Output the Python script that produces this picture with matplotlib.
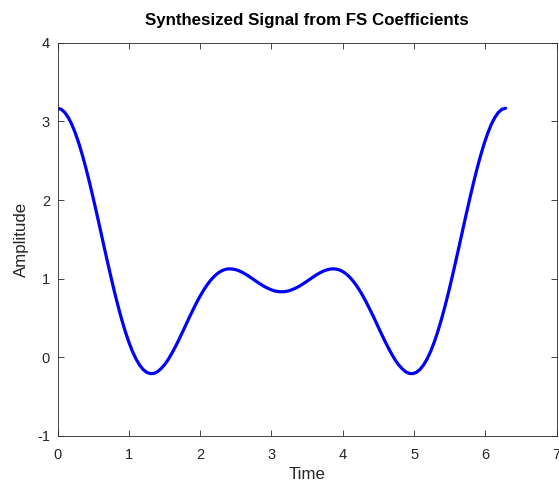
import matplotlib
matplotlib.use("Agg")
import matplotlib.pyplot as plt

# Values
time = [0.0, 0.05, 0.1, 0.15, 0.2, 0.25, 0.3, 0.35, 0.4, 0.45,
        0.5, 0.55, 0.6, 0.65, 0.7, 0.75, 0.8, 0.85, 0.9, 0.95,
        1.0, 1.05, 1.1, 1.15, 1.2, 1.25, 1.3, 1.35, 1.4, 1.45,
        1.5, 1.55, 1.6, 1.65, 1.7, 1.75, 1.8, 1.85, 1.9, 1.95,
        2.0, 2.05, 2.1, 2.15, 2.2, 2.25, 2.3, 2.35, 2.4, 2.45,
        2.5, 2.55, 2.6, 2.65, 2.7, 2.75, 2.8, 2.85, 2.9, 2.95,
        3.0, 3.05, 3.1, 3.142,
        3.183, 3.233, 3.283, 3.333, 3.383, 3.433, 3.483, 3.533, 3.583, 3.633,
        3.683, 3.733, 3.783, 3.833, 3.883, 3.933, 3.983, 4.033, 4.083, 4.133,
        4.183, 4.233, 4.283, 4.333, 4.383, 4.433, 4.483, 4.533, 4.583, 4.633,
        4.683, 4.733, 4.783, 4.833, 4.883, 4.933, 4.983, 5.033, 5.083, 5.133,
        5.183, 5.233, 5.283, 5.333, 5.383, 5.433, 5.483, 5.533, 5.583, 5.633,
        5.683, 5.733, 5.783, 5.833, 5.883, 5.933, 5.983, 6.033, 6.083, 6.133,
        6.183, 6.233, 6.283]
amplitude = [3.167, 3.154, 3.115, 3.050, 2.962, 2.850, 2.718, 2.566, 2.399, 2.218,
             2.026, 1.827, 1.624, 1.418, 1.216, 1.018, 0.827, 0.648, 0.481, 0.329,
             0.194, 0.077, -0.020, -0.097, -0.154, -0.191, -0.207, -0.205, -0.184, -0.145,
             -0.095, -0.031, 0.046, 0.130, 0.221, 0.316, 0.413, 0.511, 0.604, 0.695,
             0.779, 0.856, 0.924, 0.983, 1.032, 1.071, 1.099, 1.117, 1.125, 1.123,
             1.114, 1.098, 1.076, 1.050, 1.020, 0.989, 0.958, 0.928, 0.900, 0.877,
             0.858, 0.843, 0.835, 0.833,
             0.835, 0.843, 0.858, 0.877, 0.900, 0.928, 0.958, 0.989, 1.020, 1.050,
             1.076, 1.098, 1.114, 1.123, 1.125, 1.117, 1.099, 1.071, 1.032, 0.983,
             0.924, 0.856, 0.779, 0.695, 0.604, 0.511, 0.413, 0.316, 0.221, 0.130,
             0.046, -0.031, -0.095, -0.145, -0.184, -0.205, -0.207, -0.191, -0.154, -0.097,
             -0.020, 0.077, 0.194, 0.329, 0.481, 0.648, 0.827, 1.018, 1.216, 1.418,
             1.624, 1.827, 2.026, 2.218, 2.399, 2.566, 2.718, 2.850, 2.962, 3.050,
             3.115, 3.154, 3.167]

xticks = [0, 1, 2, 3, 4, 5, 6, 7]
yticks = [-1, 0, 1, 2, 3, 4]

plt.rcParams['font.family'] = ['Liberation Sans', 'DejaVu Sans']
plt.rcParams['axes.unicode_minus'] = False

fig = plt.figure(figsize=(5.59, 4.84), dpi=100)
ax = fig.add_axes([0.1029, 0.0992, 0.8930, 0.8126])

ax.plot(time, amplitude, color=(0, 0, 1), linewidth=2.3,
        solid_capstyle='round', solid_joinstyle='round')

ax.set_xlim(0, 7)
ax.set_ylim(-1, 4)
ax.set_xticks(xticks)
ax.set_yticks(yticks)
ax.tick_params(direction='in', top=True, right=True, length=4, width=0.6,
               color='#262626', labelcolor='#262626', labelsize=10.5)
ax.tick_params(axis='x', pad=9)
ax.tick_params(axis='y', pad=5.5)
for s in ax.spines.values():
    s.set_color('#262626')
    s.set_linewidth(0.6)

ax.set_title('Synthesized Signal from FS Coefficients', fontsize=12.2,
             fontweight='bold', pad=13)
ax.set_xlabel('Time', fontsize=12.2, color='#262626', labelpad=3.5)
ax.set_ylabel('Amplitude', fontsize=12.2, color='#262626', labelpad=6)

fig.savefig('out.png', dpi=100)
